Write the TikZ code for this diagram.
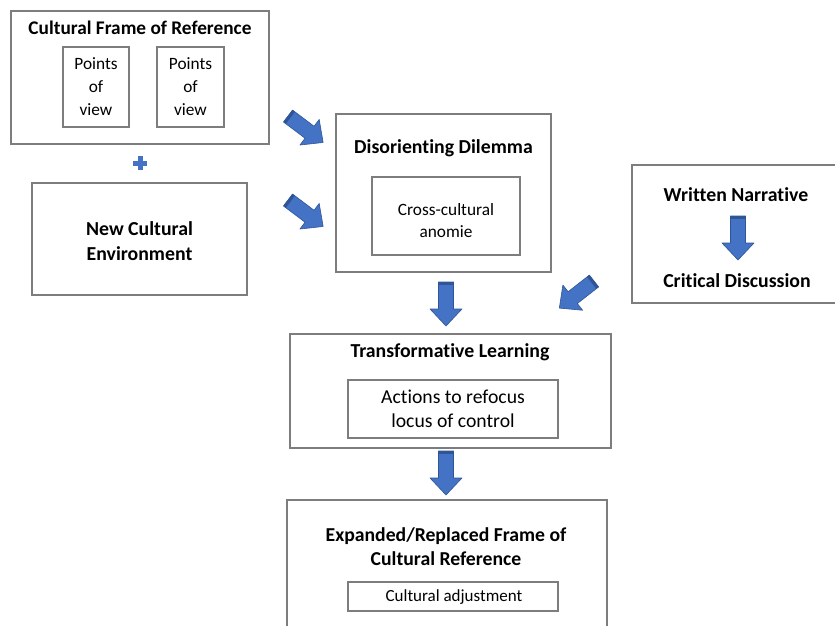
\documentclass[tikz,border=0pt]{standalone}
\usepackage{fontspec}
\setmainfont{Carlito}[Ligatures=NoCommon]
\definecolor{arrowblue}{RGB}{68,114,196}
\definecolor{arrowedge}{RGB}{47,85,151}
\definecolor{boxgray}{RGB}{125,125,125}
\tikzset{
  box/.style={draw=boxgray, line width=1.1pt, fill=white, inner sep=0pt},
  title/.style={font=\fontsize{19.8}{25}\selectfont\bfseries, align=center, inner sep=0pt},
  small/.style={font=\fontsize{17.3}{23}\selectfont, align=center, inner sep=0pt},
  barrow/.pic={
    \fill[arrowblue, draw=arrowedge, line width=0.6pt, line join=round]
      (0,-7.5) -- (27,-7.5) -- (27,-16) -- (44,0) -- (27,16) -- (27,7.5) -- (0,7.5) -- cycle;
    \fill[arrowedge] (0,-7.5) rectangle (3,7.5);
  }
}
\begin{document}
\begin{tikzpicture}[x=1pt,y=-1pt]
\clip (0,0) rectangle (835,626);
\fill[white] (0,0) rectangle (835,626);

% Cultural Frame of Reference
\node[box, minimum width=258pt, minimum height=133pt] (cfr) at (140,77.5) {};
\node[title, font=\fontsize{19.3}{24}\selectfont\bfseries] (cfrt) at (140,28) {Cultural Frame of Reference};
\node[box, minimum width=66pt, minimum height=80pt] (pv1) at (96,87) {};
\node[small] (pv1t) at (96,86.5) {Points\\of\\view};
\node[box, minimum width=67pt, minimum height=80pt] (pv2) at (190.5,87) {};
\node[small] (pv2t) at (190.5,86.5) {Points\\of\\view};

% plus
\fill[arrowblue] (137.5,156) rectangle (142.5,170);
\fill[arrowblue] (133,160.5) rectangle (147,165.5);

% New Cultural Environment
\node[box, minimum width=215pt, minimum height=112pt] (nce) at (139.5,239) {};
\node[title] (ncet) at (139.5,241) {New Cultural\\Environment};

% Disorienting Dilemma
\node[box, minimum width=215pt, minimum height=158pt] (dd) at (443.5,193) {};
\node[title] (ddt) at (443.5,148) {Disorienting Dilemma};
\node[box, minimum width=148pt, minimum height=78pt] (cca) at (446,216) {};
\node[small, font=\fontsize{17.3}{22}\selectfont] (ccat) at (446,221) {Cross-cultural\\anomie};

% Written Narrative
\node[box, minimum width=212pt, minimum height=138pt] (wn) at (738,234) {};
\node[title] (wnt) at (736,195) {Written Narrative};
\node[title] (cdt) at (737,281) {Critical Discussion};

% Transformative Learning
\node[box, minimum width=321pt, minimum height=114pt] (tl) at (450.5,391) {};
\node[title] (tlt) at (450,352) {Transformative Learning};
\node[box, minimum width=210pt, minimum height=58pt] (act) at (453,409) {};
\node[small, font=\fontsize{19.7}{24}\selectfont] (actt) at (453,409) {Actions to refocus\\locus of control};

% Expanded frame
\node[box, minimum width=320pt, minimum height=180pt] (exp) at (447,590) {};
\node[title, font=\fontsize{19.7}{24}\selectfont\bfseries] (expt) at (446,547) {Expanded/Replaced Frame of\\Cultural Reference};
\node[box, minimum width=210pt, minimum height=29pt] (adj) at (453,596.5) {};
\node[small, font=\fontsize{17}{22}\selectfont] (adjt) at (454,597) {Cultural adjustment};

% block arrows
\pic[rotate=-37] at (288,116) {barrow};
\pic[rotate=-37] at (288,200) {barrow};
\pic[rotate=-142] at (594,281) {barrow};
\pic[rotate=-90] at (446,282) {barrow};
\pic[rotate=-90] at (738,216) {barrow};
\pic[rotate=-90] at (446,451) {barrow};
\end{tikzpicture}
\end{document}
